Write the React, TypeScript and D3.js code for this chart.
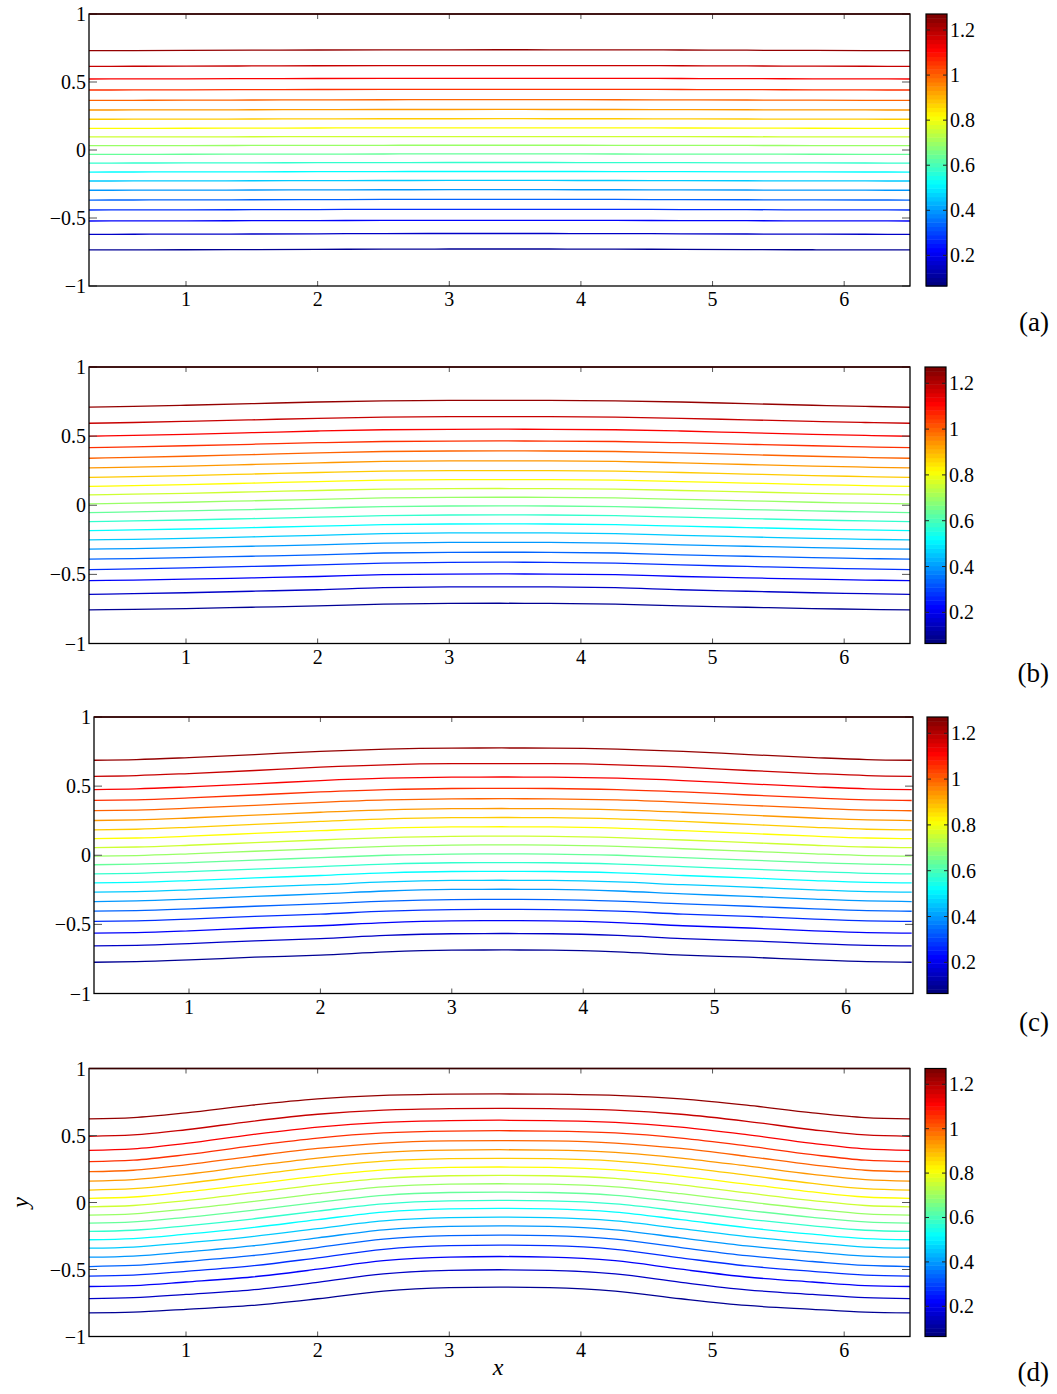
import React from "react";
import * as d3 from "d3";

// ---------- data ----------
// contour levels (psi), bottom line -> top line
const levels = [0.088, 0.149, 0.210, 0.271, 0.332, 0.393, 0.454, 0.515, 0.576, 0.637,
  0.698, 0.759, 0.820, 0.881, 0.942, 1.003, 1.064, 1.125, 1.186, 1.247];
const colorDomain = [0.064, 1.271];
const cbTicks = [0.2, 0.4, 0.6, 0.8, 1, 1.2];
const xTicks = [1, 2, 3, 4, 5, 6];
const yTicks = [-1, -0.5, 0, 0.5, 1];

// y of each streamline at the side edges and at the centre (bottom -> top)
const aEdge = [-0.735, -0.620, -0.522, -0.441, -0.368, -0.296, -0.228, -0.162, -0.096, -0.032, 0.032, 0.096, 0.159, 0.226, 0.294, 0.365, 0.441, 0.522, 0.615, 0.730];
const aPeak = [-0.728, -0.614, -0.517, -0.436, -0.363, -0.292, -0.224, -0.158, -0.092, -0.029, 0.035, 0.099, 0.163, 0.230, 0.298, 0.370, 0.446, 0.527, 0.621, 0.737];
const bEdge = [-0.757, -0.644, -0.545, -0.465, -0.390, -0.318, -0.251, -0.183, -0.118, -0.053, 0.010, 0.075, 0.137, 0.202, 0.270, 0.340, 0.417, 0.499, 0.593, 0.709];
const bPeak = [-0.709, -0.590, -0.497, -0.412, -0.340, -0.268, -0.200, -0.135, -0.070, -0.005, 0.058, 0.121, 0.186, 0.251, 0.321, 0.393, 0.465, 0.550, 0.641, 0.759];
const cEdge = [-0.774, -0.656, -0.564, -0.479, -0.405, -0.335, -0.267, -0.200, -0.135, -0.069, -0.007, 0.055, 0.120, 0.183, 0.251, 0.322, 0.396, 0.475, 0.571, 0.687];
const cPeak = [-0.685, -0.566, -0.473, -0.391, -0.319, -0.246, -0.181, -0.116, -0.053, 0.010, 0.075, 0.138, 0.206, 0.273, 0.338, 0.409, 0.484, 0.566, 0.663, 0.776];
const dEdge = [-0.824, -0.717, -0.627, -0.550, -0.478, -0.408, -0.341, -0.278, -0.216, -0.154, -0.094, -0.032, 0.031, 0.093, 0.160, 0.230, 0.305, 0.389, 0.494, 0.624];
const dPeak = [-0.632, -0.502, -0.403, -0.318, -0.243, -0.174, -0.109, -0.044, 0.016, 0.078, 0.140, 0.203, 0.265, 0.330, 0.394, 0.462, 0.536, 0.614, 0.703, 0.810];

// sampled x positions from the left edge to the centre, and the fraction of the
// rise (edge -> peak) reached there, for the bottom and top streamline
const profileX = [0.26, 0.6, 1, 1.5, 2, 2.5, 3, 3.38];
const aProfBottom = [0, 0.08, 0.2, 0.4, 0.6, 0.88, 0.99, 1];
const aProfTop = [0, 0.12, 0.29, 0.52, 0.76, 0.93, 0.99, 1];
const bProfBottom = [0, 0.08, 0.2, 0.4, 0.6, 0.88, 0.99, 1];
const bProfTop = [0, 0.12, 0.29, 0.52, 0.76, 0.93, 0.99, 1];
const cProfBottom = [0, 0.05, 0.19, 0.41, 0.58, 0.84, 0.98, 1];
const cProfTop = [0, 0.06, 0.22, 0.46, 0.73, 0.91, 0.99, 1];
const dProfBottom = [0, 0.03, 0.14, 0.29, 0.55, 0.85, 0.98, 1];
const dProfTop = [0, 0.05, 0.24, 0.55, 0.80, 0.94, 0.99, 1];
const mirrorAt = 3.38;

// ---------- layout ----------
const panels = [
  { id: "a", edge: aEdge, peak: aPeak, pb: aProfBottom, pt: aProfTop, left: 89, right: 910, top: 14, bottom: 286, cbL: 926, cbR: 947, labelY: 322, dom: [0.263, 6.5] },
  { id: "b", edge: bEdge, peak: bPeak, pb: bProfBottom, pt: bProfTop, left: 89, right: 910, top: 367, bottom: 643.5, cbL: 925, cbR: 946, labelY: 673, dom: [0.263, 6.5] },
  { id: "c", edge: cEdge, peak: cPeak, pb: cProfBottom, pt: cProfTop, left: 94, right: 913, top: 717, bottom: 993.5, cbL: 927, cbR: 948, labelY: 1022, dom: [0.277, 6.51] },
  { id: "d", edge: dEdge, peak: dPeak, pb: dProfBottom, pt: dProfTop, left: 89, right: 910, top: 1068.5, bottom: 1336.5, cbL: 925, cbR: 946, labelY: 1372, dom: [0.263, 6.5] },
];

function jet(t: number) {
  const c = (v: number) => Math.max(0, Math.min(1, v));
  const r = c(Math.min(4 * t - 1.5, -4 * t + 4.5));
  const g = c(Math.min(4 * t - 0.5, -4 * t + 3.5));
  const b = c(Math.min(4 * t + 0.5, -4 * t + 2.5));
  return d3.rgb(r * 255, g * 255, b * 255).formatHex();
}

const FONT = "Liberation Serif, DejaVu Serif, serif";
const fmt = (v: number) => (v < 0 ? "\u2212" + String(-v) : String(v));

function Panel({ p }: { p: any }) {
  const x = d3.scaleLinear().domain(p.dom).range([p.left, p.right]);
  const y = d3.scaleLinear().domain([-1, 1]).range([p.bottom, p.top]);
  const cScale = d3.scaleLinear().domain(colorDomain).range([0, 1]).clamp(true);
  const cbY = d3.scaleLinear().domain(colorDomain).range([p.bottom, p.top]);
  const line = d3.line<[number, number]>().x((d) => x(d[0])).y((d) => y(d[1])).curve(d3.curveMonotoneX);
  const n = p.edge.length;
  const clipId = "clip-" + p.id;
  const nBands = 64;
  const bandH = (p.bottom - p.top) / nBands;
  const tickCol = "#555";

  const paths = p.edge.map((e: number, i: number) => {
    const w = i / (n - 1);
    const prof = profileX.map((_, k) => p.pb[k] * (1 - w) + p.pt[k] * w);
    const pk = p.peak[i];
    const leftPts: [number, number][] = profileX.map((px, k) => [px, e + (pk - e) * prof[k]]);
    const rightPts: [number, number][] = leftPts
      .slice(0, -1)
      .reverse()
      .map((d) => [2 * mirrorAt - d[0], d[1]]);
    return { d: line([...leftPts, ...rightPts]) as string, color: jet(cScale(levels[i])) };
  });

  return (
    <g>
      <defs>
        <clipPath id={clipId}>
          <rect x={p.left} y={p.top} width={p.right - p.left} height={p.bottom - p.top} />
        </clipPath>
      </defs>
      <g clipPath={`url(#${clipId})`}>
        {paths.map((pp: any, i: number) => (
          <path key={i} d={pp.d} fill="none" stroke={pp.color} strokeWidth={1.3} />
        ))}
      </g>
      {xTicks.map((t) => (
        <g key={"xt" + t}>
          <line x1={x(t)} x2={x(t)} y1={p.bottom} y2={p.bottom - 5} stroke={tickCol} strokeWidth={1} />
          <line x1={x(t)} x2={x(t)} y1={p.top} y2={p.top + 5} stroke={tickCol} strokeWidth={1} />
          <text x={x(t)} y={p.bottom + 13} textAnchor="middle" dominantBaseline="central" fontFamily={FONT} fontSize={20}>
            {fmt(t)}
          </text>
        </g>
      ))}
      {yTicks.map((t) => (
        <g key={"yt" + t}>
          <line x1={p.left} x2={p.left + 8} y1={y(t)} y2={y(t)} stroke={tickCol} strokeWidth={1} />
          <line x1={p.right} x2={p.right - 8} y1={y(t)} y2={y(t)} stroke={tickCol} strokeWidth={1} />
          <text x={p.left - 3} y={y(t)} textAnchor="end" dominantBaseline="central" fontFamily={FONT} fontSize={20}>
            {fmt(t)}
          </text>
        </g>
      ))}
      <rect x={p.left} y={p.top} width={p.right - p.left} height={p.bottom - p.top} fill="none" stroke="#000" strokeWidth={1.3} />
      <line x1={p.left} x2={p.right} y1={y(1)} y2={y(1)} stroke="#3a0000" strokeWidth={1.5} />
      {d3.range(nBands).map((k) => (
        <rect key={"cb" + k} x={p.cbL} y={p.bottom - (k + 1) * bandH} width={p.cbR - p.cbL} height={bandH + 0.5} fill={jet(k / (nBands - 1))} />
      ))}
      <rect x={p.cbL} y={p.top} width={p.cbR - p.cbL} height={p.bottom - p.top} fill="none" stroke="#000" strokeWidth={1.2} />
      {cbTicks.map((t) => (
        <g key={"cbt" + t}>
          <line x1={p.cbL} x2={p.cbL + 4} y1={cbY(t)} y2={cbY(t)} stroke="#222" strokeWidth={1} />
          <line x1={p.cbR} x2={p.cbR - 4} y1={cbY(t)} y2={cbY(t)} stroke="#222" strokeWidth={1} />
          <text x={p.cbR + 3} y={cbY(t)} dominantBaseline="central" fontFamily={FONT} fontSize={20}>
            {fmt(t)}
          </text>
        </g>
      ))}
      <text x={1049} y={p.labelY} textAnchor="end" dominantBaseline="central" fontFamily={FONT} fontSize={27}>
        ({p.id})
      </text>
    </g>
  );
}

export default function App() {
  const last = panels[3];
  return (
    <svg width={1057} height={1394} style={{ position: "absolute", left: 0, top: 0, background: "#fff" }}>
      <rect width={1057} height={1394} fill="#fff" />
      {panels.map((p) => (
        <Panel key={p.id} p={p} />
      ))}
      <text x={498} y={1367} textAnchor="middle" dominantBaseline="central" fontFamily={FONT} fontStyle="italic" fontSize={24}>
        x
      </text>
      <text
        transform={`translate(20,${(last.top + last.bottom) / 2}) rotate(-90)`}
        textAnchor="middle"
        dominantBaseline="central"
        fontFamily={FONT}
        fontStyle="italic"
        fontSize={24}
      >
        y
      </text>
    </svg>
  );
}
